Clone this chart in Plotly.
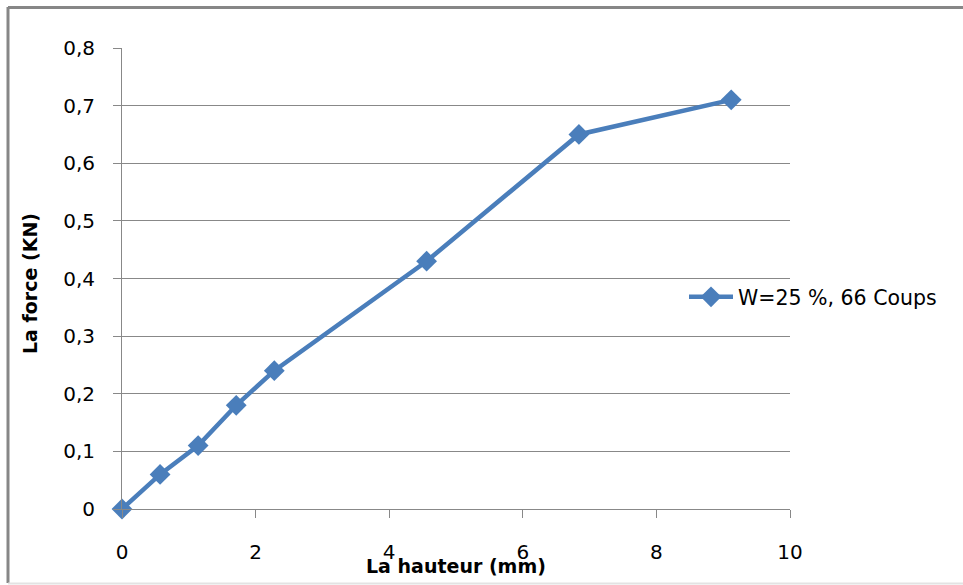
import plotly.graph_objects as go

hauteur = [0, 0.57, 1.14, 1.71, 2.28, 4.56, 6.84, 9.12]
force = [0, 0.06, 0.11, 0.18, 0.24, 0.43, 0.65, 0.71]
series_name = "W=25 %, 66 Coups"
x_title = "La hauteur (mm)"
y_title = "La force (KN)"
x_ticks = [0, 2, 4, 6, 8, 10]
y_ticks = [0, 0.1, 0.2, 0.3, 0.4, 0.5, 0.6, 0.7, 0.8]

W, H = 963, 585
L, R, T, B = 122, 790, 48, 509
pw, ph = R - L, B - T

def px(x):
    return (x - L) / pw

def py(y):
    return (B - y) / ph

blue = "#4A7EBB"
grid = "#888888"
font = "DejaVu Sans"

fig = go.Figure()
fig.add_trace(go.Scatter(
    x=hauteur, y=force, mode="lines+markers", name=series_name,
    line=dict(color=blue, width=4.5),
    marker=dict(symbol="diamond", size=16, color=blue),
    cliponaxis=False,
))

fig.update_layout(
    width=W, height=H,
    margin=dict(l=L, r=W - R, t=T, b=H - B, autoexpand=False),
    paper_bgcolor="white", plot_bgcolor="white",
    separators=", ",
    font=dict(family=font, size=20, color="#000000"),
    showlegend=True,
    legend=dict(x=px(684), y=py(297), xanchor="left", yanchor="middle",
                bgcolor="rgba(0,0,0,0)", font=dict(size=20.5, family=font),
                itemwidth=44),
    xaxis=dict(range=[0, 10], tickvals=x_ticks, showgrid=False, zeroline=False,
               showline=True, linecolor=grid, linewidth=1,
               ticks="outside", ticklen=8, tickcolor=grid, tickwidth=1,
               ticklabelstandoff=17,
               tickfont=dict(size=20, family=font)),
    yaxis=dict(range=[0, 0.8], tickvals=y_ticks, showgrid=True, gridcolor=grid,
               gridwidth=1, zeroline=False, showline=True, linecolor=grid, linewidth=1,
               ticks="outside", ticklen=8, tickcolor=grid, tickwidth=1,
               ticklabelstandoff=14,
               tickformat=".1~f",
               tickfont=dict(size=20, family=font)),
    annotations=[
        dict(text="<b>" + x_title + "</b>", xref="paper", yref="paper",
             x=px(456), y=py(566), xanchor="center", yanchor="middle",
             showarrow=False, font=dict(size=19, family=font)),
        dict(text="<b>" + y_title + "</b>", xref="paper", yref="paper",
             x=px(30), y=py(284), xanchor="center", yanchor="middle",
             textangle=-90, showarrow=False, font=dict(size=19, family=font)),
    ],
    shapes=[
        dict(type="line", xref="paper", yref="paper", x0=px(8), x1=px(8),
             y0=py(7), y1=py(583), line=dict(color="#878787", width=3)),
        dict(type="line", xref="paper", yref="paper", x0=px(8), x1=px(963),
             y0=py(7.5), y1=py(7.5), line=dict(color="#878787", width=3)),
        dict(type="line", xref="paper", yref="paper", x0=px(8), x1=px(963),
             y0=py(583.5), y1=py(583.5), line=dict(color="#E3E3E3", width=2)),
    ],
)

fig.write_html("out.html", config={"displayModeBar": False},
               post_script="document.body.style.margin='0';document.body.style.overflow='hidden';")
